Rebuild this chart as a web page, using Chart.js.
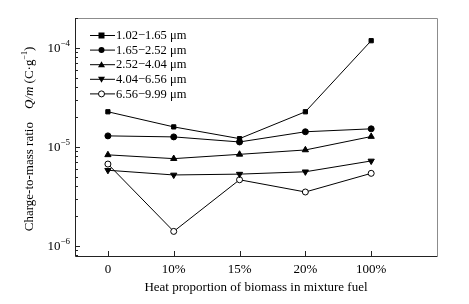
<!DOCTYPE html>
<html>
<head>
<meta charset="utf-8">
<script src="https://cdn.jsdelivr.net/npm/chart.js@4.4.0/dist/chart.umd.min.js"></script>
<style>
  html, body { margin: 0; padding: 0; background: #fff; }
  canvas { display: block; }
</style>
</head>
<body>
<canvas id="qmChart" width="469" height="304"></canvas>
<script>
// values (C/g)
const heatLabels = ["0", "10%", "15%", "20%", "100%"];
const sizeLabels = ["1.02\u22121.65 \u03bcm", "1.65\u22122.52 \u03bcm", "2.52\u22124.04 \u03bcm", "4.04\u22126.56 \u03bcm", "6.56\u22129.99 \u03bcm"];
const qm102 = [2.26e-5, 1.59e-5, 1.21e-5, 2.26e-5, 1.18e-4];
const qm165 = [1.29e-5, 1.26e-5, 1.12e-5, 1.42e-5, 1.52e-5];
const qm252 = [8.3e-6, 7.6e-6, 8.4e-6, 9.3e-6, 1.27e-5];
const qm404 = [5.8e-6, 5.2e-6, 5.3e-6, 5.6e-6, 7.2e-6];
const qm656 = [6.7e-6, 1.4e-6, 4.65e-6, 3.5e-6, 5.4e-6];
const yMajorTicks = [-6, -5, -4]; // exponents

const FONT = '"Liberation Serif", "Times New Roman", serif';
const markers = ['rect', 'circle', 'triangle', 'triangleDown', 'openCircle'];
const series = [qm102, qm165, qm252, qm404, qm656];

function toPoints(arr) {
  return arr.map((v, i) => ({ x: i, y: v }));
}

function drawMarker(ctx, kind, x, y) {
  ctx.save();
  ctx.fillStyle = '#000';
  ctx.strokeStyle = '#000';
  ctx.lineWidth = 1;
  ctx.beginPath();
  if (kind === 'rect') {
    ctx.rect(x - 3, y - 3, 6, 6);
    ctx.fill();
  } else if (kind === 'circle') {
    ctx.arc(x, y, 3, 0, Math.PI * 2);
    ctx.fill();
  } else if (kind === 'triangle') {
    ctx.moveTo(x, y - 3.5);
    ctx.lineTo(x + 3.5, y + 2.5);
    ctx.lineTo(x - 3.5, y + 2.5);
    ctx.closePath();
    ctx.fill();
  } else if (kind === 'triangleDown') {
    ctx.moveTo(x, y + 3.5);
    ctx.lineTo(x + 3.5, y - 2.5);
    ctx.lineTo(x - 3.5, y - 2.5);
    ctx.closePath();
    ctx.fill();
  } else {
    ctx.arc(x, y, 3, 0, Math.PI * 2);
    ctx.fillStyle = '#fff';
    ctx.fill();
    ctx.stroke();
  }
  ctx.restore();
}

const datasets = series.map((arr, i) => ({
  label: sizeLabels[i],
  data: toPoints(arr),
  borderColor: '#000',
  borderWidth: 1,
  backgroundColor: markers[i] === 'openCircle' ? '#fff' : '#000',
  pointBorderColor: '#000',
  pointBorderWidth: 1,
  pointStyle: markers[i] === 'rect' ? 'rect' : (markers[i].indexOf('triangle') === 0 ? 'triangle' : 'circle'),
  pointRotation: markers[i] === 'triangleDown' ? 180 : 0,
  pointRadius: markers[i] === 'rect' ? 3 : (markers[i].indexOf('triangle') === 0 ? 3.6 : 3),
  tension: 0
}));

const frame = {
  id: 'frame',
  afterDraw(chart) {
    const ctx = chart.ctx;
    const a = chart.chartArea;
    const xs = chart.scales.x;
    const ys = chart.scales.y;
    ctx.save();

    // box: grey top/right, dark left/bottom
    ctx.lineWidth = 1;
    ctx.strokeStyle = '#8c8c8c';
    ctx.beginPath();
    ctx.moveTo(a.left, a.top + 0.5);
    ctx.lineTo(a.right + 0.5, a.top + 0.5);
    ctx.lineTo(a.right + 0.5, a.bottom);
    ctx.stroke();
    ctx.strokeStyle = '#222';
    ctx.beginPath();
    ctx.moveTo(a.left + 0.5, a.top);
    ctx.lineTo(a.left + 0.5, a.bottom + 0.5);
    ctx.lineTo(a.right + 0.5, a.bottom + 0.5);
    ctx.stroke();

    // y ticks (inside), major and minor
    ctx.beginPath();
    for (let e = -7; e <= -3; e++) {
      for (let m = 1; m <= 9; m++) {
        const v = m * Math.pow(10, e);
        if (v < ys.min || v > ys.max) continue;
        const py = Math.round(ys.getPixelForValue(v)) + 0.5;
        const len = m === 1 ? 5 : 3;
        ctx.moveTo(a.left, py);
        ctx.lineTo(a.left + len, py);
      }
    }
    // x ticks (inside)
    heatLabels.forEach((_, i) => {
      const px = Math.round(xs.getPixelForValue(i)) + 0.5;
      ctx.moveTo(px, a.bottom);
      ctx.lineTo(px, a.bottom - 5);
    });
    ctx.stroke();

    // y tick labels 10^n
    ctx.fillStyle = '#000';
    ctx.textBaseline = 'middle';
    yMajorTicks.forEach(e => {
      const py = ys.getPixelForValue(Math.pow(10, e));
      ctx.font = '9px ' + FONT;
      const sup = '\u2212' + Math.abs(e);
      const wSup = ctx.measureText(sup).width;
      ctx.textAlign = 'right';
      ctx.fillText(sup, a.left - 5, py - 4);
      ctx.font = '13px ' + FONT;
      ctx.fillText('10', a.left - 5 - wSup, py + 1);
    });

    // x tick labels
    ctx.font = '13px ' + FONT;
    ctx.textAlign = 'center';
    heatLabels.forEach((lab, i) => {
      ctx.fillText(lab, xs.getPixelForValue(i), a.bottom + 14);
    });

    // x axis title
    ctx.fillText('Heat proportion of biomass in mixture fuel', (a.left + a.right) / 2, a.bottom + 32);

    // y axis title, rotated, with italic Q/m and superscript
    ctx.save();
    ctx.translate(30, (a.top + a.bottom) / 2 + 2);
    ctx.rotate(-Math.PI / 2);
    const parts = [
      { t: 'Charge-to-mass ratio    ', f: '13px ' + FONT, dy: 0 },
      { t: 'Q/m', f: 'italic 13px ' + FONT, dy: 0 },
      { t: ' (C\u00b7g', f: '13px ' + FONT, dy: 0 },
      { t: '\u22121', f: '8px ' + FONT, dy: -5 },
      { t: ')', f: '13px ' + FONT, dy: 0 }
    ];
    let total = 0;
    parts.forEach(p => { ctx.font = p.f; p.w = ctx.measureText(p.t).width; total += p.w; });
    let cx = -total / 2;
    ctx.textAlign = 'left';
    parts.forEach(p => {
      ctx.font = p.f;
      ctx.fillText(p.t, cx, p.dy);
      cx += p.w;
    });
    ctx.restore();

    // legend inside the plot, top left
    ctx.font = '12.5px ' + FONT;
    ctx.textAlign = 'left';
    ctx.strokeStyle = '#000';
    sizeLabels.forEach((lab, i) => {
      const ly = a.top + 17 + i * 14.6;
      const lx = a.left + 15;
      ctx.beginPath();
      ctx.moveTo(lx, ly + 0.5);
      ctx.lineTo(lx + 25, ly + 0.5);
      ctx.stroke();
      drawMarker(ctx, markers[i], lx + 11.5, ly + 0.5);
      ctx.fillStyle = '#000';
      ctx.fillText(lab, lx + 26, ly + 1);
    });

    ctx.restore();
  }
};

const ctx = document.getElementById('qmChart').getContext('2d');

const qmChart = new Chart(ctx, {
  type: 'line',
  data: { datasets: datasets },
  options: {
    responsive: false,
    animation: false,
    clip: false,
    layout: { padding: { top: 18, right: 32, left: 75, bottom: 48 } },
    scales: {
      x: {
        type: 'linear',
        display: false,
        min: -0.5,
        max: 5
      },
      y: {
        type: 'logarithmic',
        display: false,
        min: 7.9e-7,
        max: 2.0e-4
      }
    },
    plugins: {
      legend: { display: false },
      tooltip: { enabled: false }
    }
  },
  plugins: [frame]
});
</script>
</body>
</html>
